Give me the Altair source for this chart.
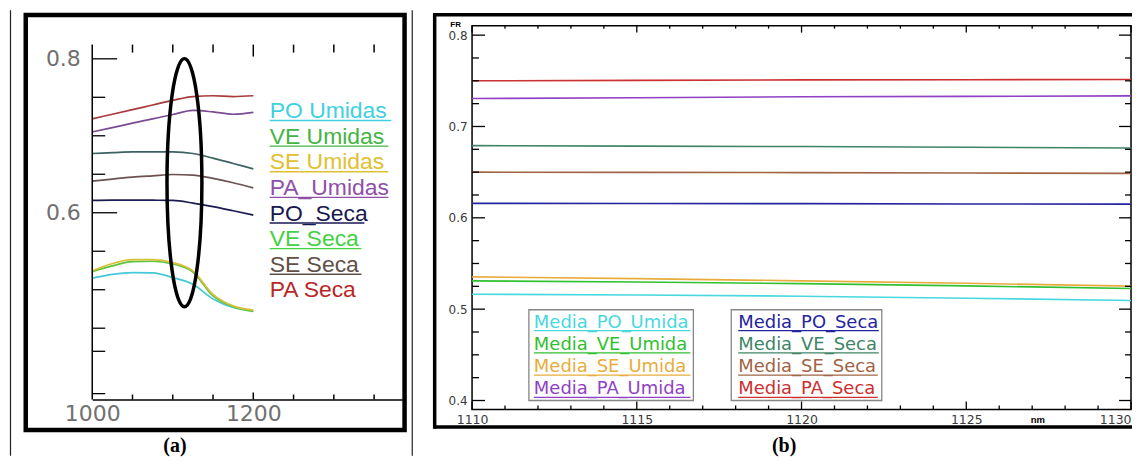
import altair as alt
import pandas as pd

# ---------------- panel (a) data ----------------
A_WL = [1000, 1025, 1050, 1075, 1100, 1125, 1150, 1175, 1200]
A_SERIES = ["PO Umidas", "VE Umidas", "SE Umidas", "PA_Umidas",
            "PO_Seca", "VE Seca", "SE Seca", "PA Seca"]
A_PO_UMIDAS = [0.515, 0.520, 0.5223, 0.5218, 0.5158, 0.507, 0.488, 0.477, 0.4727]
A_VE_UMIDAS = [0.5235, 0.531, 0.5365, 0.537, 0.5335, 0.523, 0.492, 0.478, 0.4718]
A_SE_UMIDAS = [0.5245, 0.534, 0.539, 0.539, 0.5353, 0.5245, 0.494, 0.479, 0.4736]
A_PA_UMIDAS = [0.705, 0.7106, 0.7164, 0.722, 0.7276, 0.733, 0.731, 0.728, 0.7305]
A_PO_SECA = [0.616, 0.6165, 0.6165, 0.6163, 0.616, 0.6126, 0.608, 0.6026, 0.597]
A_VE_SECA = [0.677, 0.678, 0.679, 0.679, 0.679, 0.677, 0.671, 0.664, 0.657]
A_SE_SECA = [0.641, 0.6438, 0.6462, 0.648, 0.6497, 0.649, 0.6446, 0.639, 0.6324]
A_PA_SECA = [0.722, 0.728, 0.734, 0.740, 0.746, 0.751, 0.752, 0.751, 0.752]
A_VALUES = [A_PO_UMIDAS, A_VE_UMIDAS, A_SE_UMIDAS, A_PA_UMIDAS,
            A_PO_SECA, A_VE_SECA, A_SE_SECA, A_PA_SECA]
A_LINE_COLORS = ["#45c8d8", "#5cc43c", "#d8c038", "#7a4a92",
                 "#1c1c52", "#3c6262", "#6c5252", "#a83a3a"]
A_TEXT_COLORS = ["#40d0e0", "#44b444", "#e0c030", "#9050a8",
                 "#181850", "#44d044", "#605048", "#b82828"]
A_UNDERLINE_W = [122, 119, 119, 119, 95, 92, 92, 0]
A_X_LABELS = [1000, 1200]
A_Y_LABELS = [0.6, 0.8]
A_Y_MAJOR = [0.6, 0.8]
A_Y_MINOR = [0.75, 0.7, 0.65, 0.55, 0.5, 0.45, 0.42, 0.365]
A_X_TICKS = [1050, 1100, 1150, 1250, 1300, 1350]
A_X_MAJOR = [1200]
ELLIPSE_WL = [1114.5]
ELLIPSE_FR = [0.639]

# ---------------- panel (b) data ----------------
B_WL = [1110, 1115, 1120, 1125, 1130]
B_SERIES = ["Media_PO_Umida", "Media_VE_Umida", "Media_SE_Umida", "Media_PA_Umida",
            "Media_PO_Seca", "Media_VE_Seca", "Media_SE_Seca", "Media_PA_Seca"]
B_PO_UMIDA = [0.5164, 0.5155, 0.5142, 0.512, 0.5095]
B_VE_UMIDA = [0.531, 0.5297, 0.528, 0.5255, 0.5226]
B_SE_UMIDA = [0.5353, 0.5334, 0.531, 0.5283, 0.5252]
B_PA_UMIDA = [0.7306, 0.7315, 0.7325, 0.733, 0.7335]
B_PO_SECA = [0.6158, 0.6157, 0.6155, 0.6152, 0.615]
B_VE_SECA = [0.679, 0.6785, 0.678, 0.6773, 0.6765]
B_SE_SECA = [0.650, 0.6498, 0.6495, 0.649, 0.6487]
B_PA_SECA = [0.750, 0.7505, 0.751, 0.7512, 0.7515]
B_VALUES = [B_PO_UMIDA, B_VE_UMIDA, B_SE_UMIDA, B_PA_UMIDA,
            B_PO_SECA, B_VE_SECA, B_SE_SECA, B_PA_SECA]
B_COLORS = ["#48d8e0", "#30c030", "#e8ac3c", "#9040c4",
            "#2424a0", "#3e8466", "#a06444", "#cc3030"]
B_UNDERLINE_W = [157, 157, 157, 157, 141, 141, 140, 140]
B_X_LABELS = [1110, 1115, 1120, 1125, 1130]
B_X_MINOR = [1111, 1112, 1113, 1114, 1116, 1117, 1118, 1119, 1121, 1122,
             1123, 1124, 1126, 1127, 1128, 1129]
B_Y_MAJOR = [0.4, 0.5, 0.6, 0.7, 0.8]
B_Y_MINOR = [0.425, 0.45, 0.475, 0.525, 0.55, 0.575, 0.625, 0.65, 0.675,
             0.725, 0.75, 0.775]


def long_df(wl, names, values):
    rows = []
    for name, vals in zip(names, values):
        for w, v in zip(wl, vals):
            rows.append({"wl": w, "fr": v, "series": name})
    return pd.DataFrame(rows)


def rule(color="black", w=1.0, **enc):
    return alt.Chart().mark_rule(color=color, strokeWidth=w).encode(**enc)


def label(text, x, y, **kw):
    return alt.Chart().mark_text(text=text, **kw).encode(x=alt.value(x), y=alt.value(y))


# ================= panel (a) =================
A_W, A_H = 311, 375
AX = alt.Scale(domain=[1000, 1385], nice=False, zero=False)
AY = alt.Scale(domain=[0.3574, 0.8431], nice=False, zero=False)
AXIS_AX = alt.Axis(
    values=A_X_LABELS, format="d", ticks=False, tickSize=0, domain=True,
    domainColor="black", domainWidth=1.5, labelFontSize=22, labelFont="DejaVu Sans",
    labelColor="#707070", labelPadding=4, title=None, grid=False, labelOverlap=False,
    labelFlush=False)
AXIS_AY = alt.Axis(
    values=A_Y_LABELS, format=".1f", ticks=False, tickSize=0, domain=False,
    labelFontSize=22, labelFont="DejaVu Sans", labelColor="#707070",
    labelPadding=12, title=None, grid=False, labelFlush=False)


def ax_x(field="wl"):
    return alt.X(field + ":Q", scale=AX, axis=AXIS_AX)


def ax_y(field="fr"):
    return alt.Y(field + ":Q", scale=AY, axis=AXIS_AY)


df_a = long_df(A_WL, A_SERIES, A_VALUES)
lines_a = alt.Chart(df_a).mark_line(strokeWidth=1.7, interpolate="monotone").encode(
    x=ax_x(), y=ax_y(),
    color=alt.Color("series:N", scale=alt.Scale(domain=A_SERIES, range=A_LINE_COLORS), legend=None),
    detail="series:N",
)

ELLIPSE_PATH = ("M0,-1 C0.07766,-1 0.1406,-0.5523 0.1406,0 "
                "C0.1406,0.5523 0.07766,1 0,1 C-0.07766,1 -0.1406,0.5523 -0.1406,0 "
                "C-0.1406,-0.5523 -0.07766,-1 0,-1 Z")
ellipse = alt.Chart(pd.DataFrame({"wl": ELLIPSE_WL, "fr": ELLIPSE_FR})).mark_point(
    shape=ELLIPSE_PATH, size=62001, filled=False, color="black", strokeWidth=3.5, opacity=1
).encode(x=ax_x(), y=ax_y())

a_layers = [lines_a, ellipse]
a_layers.append(rule(w=1.5, x=alt.value(0), y=alt.value(19), y2=alt.value(A_H)))
for vals, ln in [(A_Y_MAJOR, 25), (A_Y_MINOR, 13)]:
    a_layers.append(alt.Chart(pd.DataFrame({"fr": vals})).mark_rule(color="black", strokeWidth=1.3).encode(
        y=ax_y(), x=alt.value(0), x2=alt.value(ln)))
for vals, lb, lt in [(A_X_TICKS, 5, 8), (A_X_MAJOR, 7, 12)]:
    d = pd.DataFrame({"wl": vals})
    a_layers.append(alt.Chart(d).mark_rule(color="black", strokeWidth=1.5).encode(
        x=ax_x(), y=alt.value(A_H - lb), y2=alt.value(A_H)))
    a_layers.append(alt.Chart(d).mark_rule(color="black", strokeWidth=1.5).encode(
        x=ax_x(), y=alt.value(19), y2=alt.value(19 + lt)))
for i, (name, col, uw) in enumerate(zip(A_SERIES, A_TEXT_COLORS, A_UNDERLINE_W)):
    base = 92.7 + 25.7 * i
    a_layers.append(label(name, 178, base, align="left", baseline="alphabetic",
                          font="Liberation Sans", fontSize=23, color=col))
    if uw > 0:
        a_layers.append(rule(color=col, w=1.4, x=alt.value(178), x2=alt.value(178 + uw),
                             y=alt.value(base + 2.5)))
a_layers.append(alt.Chart().mark_rect(fillOpacity=0, stroke="black", strokeWidth=4.5).encode(
    x=alt.value(-66.7), x2=alt.value(313.3), y=alt.value(-10.7), y2=alt.value(405.5)))
a_layers.append(rule(color="#222222", w=1.2, x=alt.value(-82), y=alt.value(-15.5), y2=alt.value(431.5)))
a_layers.append(rule(color="#222222", w=1.2, x=alt.value(321), y=alt.value(-15.5), y2=alt.value(431.5)))
a_layers.append(label("(a)", 83, 422, align="center", baseline="middle",
                      font="Liberation Serif", fontWeight="bold", fontSize=20, color="black"))

panel_a = alt.layer(*a_layers).properties(
    width=A_W, height=A_H, view=alt.ViewBackground(stroke="transparent"))

# ================= panel (b) =================
B_W, B_H = 661, 385
BX = alt.Scale(domain=[1110, 1130], nice=False, zero=False)
BY = alt.Scale(domain=[0.3902, 0.8104], nice=False, zero=False)
AXIS_BX = alt.Axis(
    values=B_X_LABELS, format="d", ticks=False, tickSize=0, domain=False,
    labelFontSize=12.5, labelFont="DejaVu Sans", labelColor="#3a3a3a", labelPadding=4,
    labelOverlap=False, grid=False, labelFlush=False,
    labelAlign={"condition": {"test": "datum.value == 1130", "value": "right"}, "value": "center"},
    title="nm", titleX=567, titleY=13, titleAlign="center", titleBaseline="alphabetic",
    titleFont="Liberation Sans", titleFontSize=9.5, titleFontWeight="bold", titleColor="black")
AXIS_BY = alt.Axis(
    values=B_Y_MAJOR, format=".1f", ticks=False, tickSize=0, domain=False,
    labelFontSize=12, labelFont="DejaVu Sans", labelColor="#3a3a3a", labelPadding=5, grid=False,
    labelFlush=False,
    title="FR", titleAngle=0, titleX=-17, titleY=1, titleAlign="center",
    titleBaseline="alphabetic", titleFont="Liberation Sans", titleFontSize=8,
    titleFontWeight="bold", titleColor="black")


def bx_x(field="wl"):
    return alt.X(field + ":Q", scale=BX, axis=AXIS_BX)


def bx_y(field="fr"):
    return alt.Y(field + ":Q", scale=BY, axis=AXIS_BY)


df_b = long_df(B_WL, B_SERIES, B_VALUES)
lines_b = alt.Chart(df_b).mark_line(strokeWidth=1.6).encode(
    x=bx_x(), y=bx_y(),
    color=alt.Color("series:N", scale=alt.Scale(domain=B_SERIES, range=B_COLORS), legend=None),
    detail="series:N",
)

b_layers = [lines_b]
for vals, lb, lt in [(B_X_LABELS, 8, 7), (B_X_MINOR, 4, 3)]:
    d = pd.DataFrame({"wl": vals})
    b_layers.append(alt.Chart(d).mark_rule(color="black", strokeWidth=1.3).encode(
        x=bx_x(), y=alt.value(B_H - lb), y2=alt.value(B_H)))
    b_layers.append(alt.Chart(d).mark_rule(color="black", strokeWidth=1.3).encode(
        x=bx_x(), y=alt.value(0), y2=alt.value(lt)))
for vals, ll, lr in [(B_Y_MAJOR, 13, 12), (B_Y_MINOR, 7, 6)]:
    d = pd.DataFrame({"fr": vals})
    b_layers.append(alt.Chart(d).mark_rule(color="black", strokeWidth=1.3).encode(
        y=bx_y(), x=alt.value(0), x2=alt.value(ll)))
    b_layers.append(alt.Chart(d).mark_rule(color="black", strokeWidth=1.3).encode(
        y=bx_y(), x=alt.value(B_W - lr), x2=alt.value(B_W)))
for x0, x1 in [(57, 222), (260, 411)]:
    b_layers.append(alt.Chart().mark_rect(fill="white", stroke="#858585", strokeWidth=1.3).encode(
        x=alt.value(x0), x2=alt.value(x1), y=alt.value(285), y2=alt.value(376)))
for i, (name, col, uw) in enumerate(zip(B_SERIES, B_COLORS, B_UNDERLINE_W)):
    x0 = 62 if i < 4 else 267
    base = 303 + 22.3 * (i % 4)
    b_layers.append(label(name, x0, base, align="left", baseline="alphabetic",
                          font="DejaVu Sans", fontSize=18, color=col))
    b_layers.append(rule(color=col, w=1.3, x=alt.value(x0), x2=alt.value(x0 + uw),
                         y=alt.value(base + 3)))
b_layers.append(rule(w=3.5, x=alt.value(-37.5), y=alt.value(-12.7), y2=alt.value(404.2)))
b_layers.append(rule(w=3.5, x=alt.value(-39), x2=alt.value(662), y=alt.value(-11)))
b_layers.append(rule(w=3.5, x=alt.value(-39), x2=alt.value(662), y=alt.value(402.5)))
b_layers.append(label("(b)", 313, 422, align="center", baseline="middle",
                      font="Liberation Serif", fontWeight="bold", fontSize=20, color="black"))

panel_b = alt.layer(*b_layers).properties(
    width=B_W, height=B_H,
    view=alt.ViewBackground(stroke="black", strokeWidth=1.5, strokeOpacity=1))

chart = alt.HConcatChart(hconcat=[panel_a, panel_b], spacing=70, bounds="flush").resolve_scale(
    color="independent"
).properties(
    padding={"left": 1.5, "top": 0, "right": 0, "bottom": 0}
).configure_axis(grid=False).configure_view(strokeWidth=0)

chart.save("out.html", embed_options={"renderer": "svg", "actions": False})
